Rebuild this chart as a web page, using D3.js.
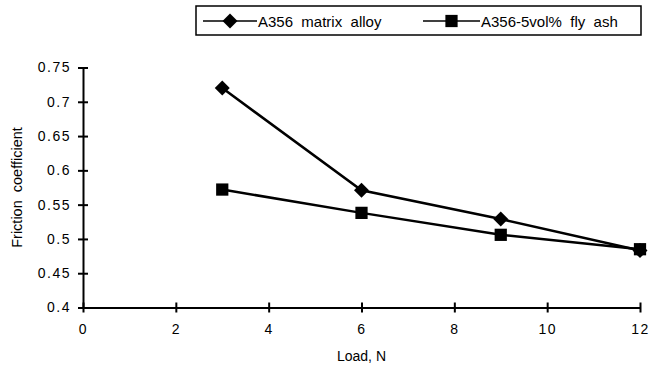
<!DOCTYPE html>
<html>
<head>
<meta charset="utf-8">
<script src="https://cdn.jsdelivr.net/npm/d3@7"></script>
<style>
  body { margin: 0; background: #fff; }
  svg { display: block; font-family: "Liberation Sans", Arial, sans-serif; }
</style>
</head>
<body>
<svg id="chart" width="650" height="369"></svg>
<script>
// --- data ---
const loads = [3, 6, 9, 12];
const matrixAlloy = [0.72, 0.571, 0.529, 0.483];
const flyAsh = [0.572, 0.538, 0.506, 0.485];
const seriesNames = ["A356  matrix  alloy", "A356-5vol%  fly  ash"];
const xTicks = [0, 2, 4, 6, 8, 10, 12];
const yTicks = [0.4, 0.45, 0.5, 0.55, 0.6, 0.65, 0.7, 0.75];

const svg = d3.select("#chart");
const FONT = "\"Liberation Sans\", Arial, sans-serif";

const x = d3.scaleLinear().domain([0, 12]).range([83, 640]);
const y = d3.scaleLinear().domain([0.4, 0.75]).range([307.5, 67.5]);

// axes
const yAxis = svg.append("g")
    .attr("transform", `translate(${x(0)},0)`)
    .call(d3.axisLeft(y).tickValues(yTicks).tickSize(0).tickPadding(12)
        .tickFormat((d) => String(+d.toFixed(2))));
const xAxis = svg.append("g")
    .attr("transform", `translate(0,${y(0.4)})`)
    .call(d3.axisBottom(x).tickValues(xTicks).tickSize(0).tickPadding(17));

[yAxis, xAxis].forEach((g) => {
    g.attr("font-size", 14).attr("font-family", FONT);
    g.select(".domain").attr("stroke", "#000").attr("stroke-width", 2);
    g.selectAll("text").attr("fill", "#000").style("letter-spacing", "1.5px");
});
yAxis.selectAll(".tick line").attr("x1", -5).attr("x2", 5)
    .attr("stroke", "#000").attr("stroke-width", 2);
xAxis.selectAll(".tick line").attr("y1", -5).attr("y2", 5)
    .attr("stroke", "#000").attr("stroke-width", 2);

// axis titles
svg.append("text")
    .attr("transform", `translate(22,${(y(0.4) + y(0.75)) / 2}) rotate(-90)`)
    .attr("text-anchor", "middle")
    .attr("font-size", 14.5)
    .style("word-spacing", "4px")
    .text("Friction coefficient");
svg.append("text")
    .attr("x", (x(0) + x(12)) / 2)
    .attr("y", 361)
    .attr("text-anchor", "middle")
    .attr("font-size", 14)
    .text("Load, N");

// lines + markers
const line = d3.line().x((d) => x(d[0])).y((d) => y(d[1]));
const diamond = d3.symbol().type(d3.symbolSquare).size(112);
const square = d3.symbol().type(d3.symbolSquare).size(150);

const series = [
    { name: seriesNames[0], values: matrixAlloy, marker: "diamond" },
    { name: seriesNames[1], values: flyAsh, marker: "square" },
];

function drawMarker(g, kind, cx, cy) {
    if (kind === "diamond") {
        g.append("path").attr("d", diamond())
            .attr("transform", `translate(${cx},${cy}) rotate(45)`)
            .attr("fill", "#000");
    } else {
        g.append("path").attr("d", square())
            .attr("transform", `translate(${cx},${cy})`)
            .attr("fill", "#000");
    }
}

series.forEach((s) => {
    const pts = loads.map((l, i) => [l, s.values[i]]);
    svg.append("path").attr("d", line(pts))
        .attr("fill", "none").attr("stroke", "#000").attr("stroke-width", 2.5);
    const g = svg.append("g");
    pts.forEach((p) => drawMarker(g, s.marker, x(p[0]), y(p[1])));
});

// legend
const legend = svg.append("g");
legend.append("rect")
    .attr("x", 196).attr("y", 6).attr("width", 445).attr("height", 29)
    .attr("fill", "#fff").attr("stroke", "#000").attr("stroke-width", 1.5);
const entries = [
    { x0: 203, x1: 257, tx: 258 },
    { x0: 423, x1: 480, tx: 481 },
];
entries.forEach((e, i) => {
    legend.append("line")
        .attr("x1", e.x0).attr("x2", e.x1).attr("y1", 21).attr("y2", 21)
        .attr("stroke", "#000").attr("stroke-width", 1.5);
    drawMarker(legend, series[i].marker, (e.x0 + e.x1) / 2, 21);
    legend.append("text")
        .attr("x", e.tx).attr("y", 26.5)
        .attr("font-size", 15)
        .style("white-space", "pre")
        .text(series[i].name);
});
</script>
</body>
</html>
